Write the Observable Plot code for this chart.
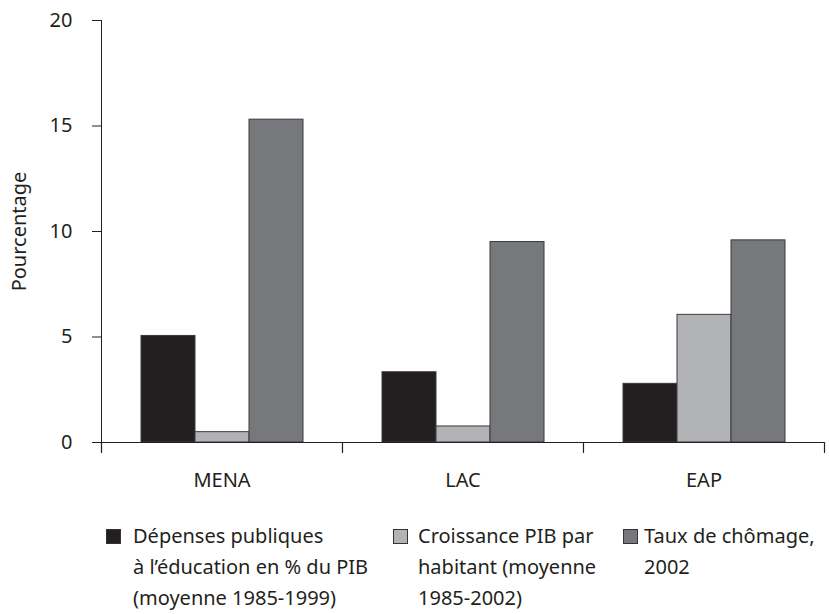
<!DOCTYPE html>
<html>
<head>
<meta charset="utf-8">
<script src="https://cdn.jsdelivr.net/npm/d3@7"></script>
<script src="https://cdn.jsdelivr.net/npm/@observablehq/plot@0.6"></script>
<style>
  body { margin: 0; background: #fff; font-family: "Noto Sans", sans-serif; }
  #chart { width: 829px; }
  .legend { position: relative; height: 109px; font-size: 20px; color: #231f20; line-height: 31px; }
  .sw { position: absolute; top: 24px; width: 15px; height: 15px; border: 1px solid #333; box-sizing: border-box; }
  .txt { position: absolute; top: 15px; white-space: nowrap; }
</style>
</head>
<body>
<div id="chart"></div>
<script>
const categories = ["MENA", "LAC", "EAP"];
const seriesNames = [
  "Dépenses publiques à l’éducation en % du PIB (moyenne 1985-1999)",
  "Croissance PIB par habitant (moyenne 1985-2002)",
  "Taux de chômage, 2002"
];
const legendLines = [
  ["Dépenses publiques", "à l’éducation en % du PIB", "(moyenne 1985-1999)"],
  ["Croissance PIB par", "habitant (moyenne", "1985-2002)"],
  ["Taux de chômage,", "2002"]
];
const depenses = [5.05, 3.33, 2.78];
const croissance = [0.49, 0.76, 6.05];
const chomage = [15.3, 9.5, 9.58];
const yTicks = [0, 5, 10, 15, 20];
const colors = ["#231f20", "#b2b3b6", "#77787b"];

const values = [depenses, croissance, chomage];
const table = [];
categories.forEach((c, i) => {
  seriesNames.forEach((s, j) => table.push({category: c, series: s, value: values[j][i]}));
});

const tickShape = {
  draw(context, l) { context.moveTo(0, 0); context.lineTo(0, -l); }
};

const plot = Plot.plot({
  width: 829,
  height: 505,
  marginLeft: 101,
  marginRight: 5,
  marginTop: 20,
  marginBottom: 63,
  style: {fontFamily: "Noto Sans, sans-serif", fontSize: "20px", color: "#231f20", background: "#fff"},
  fx: {domain: categories, padding: 0, label: null, tickSize: 0, tickPadding: 30},
  x: {domain: seriesNames, paddingInner: 0, paddingOuter: 0.73, axis: null},
  y: {domain: [0, 20], ticks: yTicks, tickSize: 9, tickPadding: 20, line: true,
      label: "Pourcentage", labelAnchor: "center", labelArrow: "none", labelOffset: 90},
  color: {domain: seriesNames, range: colors},
  marks: [
    Plot.barY(table, {fx: "category", x: "series", y: "value", fill: "series", stroke: "#3a3a3a", strokeWidth: 1}),
    Plot.ruleY([0], {stroke: "#231f20", strokeWidth: 1.2}),
    Plot.vector(categories, {fx: d => d, frameAnchor: "bottom-left", length: 10, rotate: 180, anchor: "start", shape: tickShape, stroke: "#231f20", strokeWidth: 1.2}),
    Plot.vector([categories[categories.length - 1]], {fx: d => d, frameAnchor: "bottom-right", length: 10, rotate: 180, anchor: "start", shape: tickShape, stroke: "#231f20", strokeWidth: 1.2})
  ]
});
document.getElementById("chart").appendChild(plot);

const legend = document.createElement("div");
legend.className = "legend";
const swatchLefts = [106, 393, 623];
const textLefts = [133, 418, 644];
legendLines.forEach((lines, i) => {
  const sw = document.createElement("div");
  sw.className = "sw";
  sw.style.left = swatchLefts[i] + "px";
  sw.style.background = colors[i];
  const txt = document.createElement("div");
  txt.className = "txt";
  txt.style.left = textLefts[i] + "px";
  txt.innerHTML = lines.join("<br>");
  legend.appendChild(sw);
  legend.appendChild(txt);
});
document.getElementById("chart").appendChild(legend);
</script>
</body>
</html>
